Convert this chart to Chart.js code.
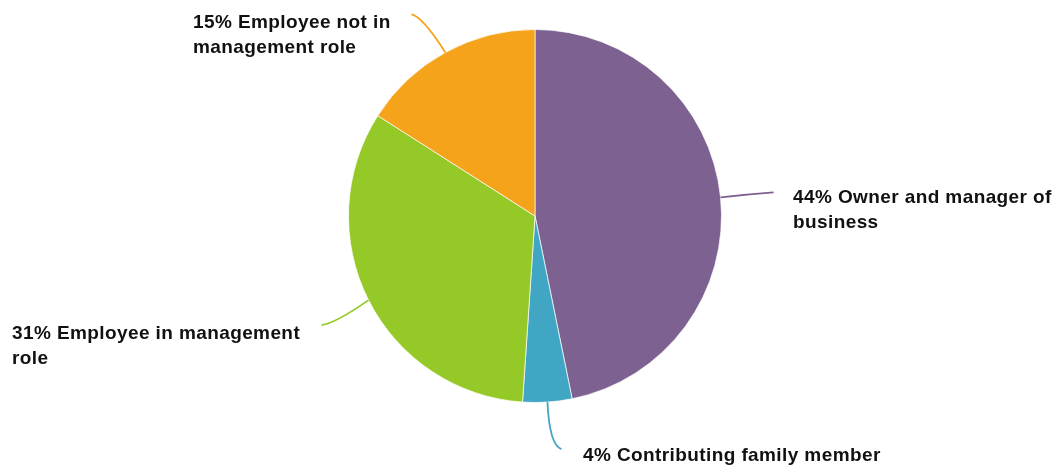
<!DOCTYPE html>
<html>
<head>
<meta charset="utf-8">
<script src="https://cdn.jsdelivr.net/npm/chart.js@4.4.1/dist/chart.umd.min.js"></script>
<style>
  html, body { margin: 0; padding: 0; background: #ffffff; }
  #wrap { width: 1063px; height: 472px; position: relative; }
</style>
</head>
<body>
<div id="wrap"><canvas id="chart"></canvas></div>
<script>
// Employment status shares (percent)
const categories = [
  'Owner and manager of business',
  'Contributing family member',
  'Employee in management role',
  'Employee not in management role'
];
const shares = [44, 4, 31, 15];
const sliceColors = ['#7d6190', '#41a6c4', '#95c927', '#f5a31b'];

// Label text, broken into lines as displayed
const labelLines = [
  ['44% Owner and manager of', 'business'],
  ['4% Contributing family member'],
  ['31% Employee in management', 'role'],
  ['15% Employee not in', 'management role']
];

// Leader-line geometry per slice: control point and end point offsets from the arc midpoint,
// plus where the label block starts (left x, first baseline).
const leaderLayout = [
  { c: [26, -3], e: [53, -5], text: [793, 203] },
  { c: [2, 43],  e: [14, 47], text: [583, 461] },
  { c: [-33, 23], e: [-47, 25], text: [12, 339] },
  { c: [-23, -36], e: [-34, -38], text: [193, 28] }
];

const leaderPlugin = {
  id: 'leaderLabels',
  afterDatasetsDraw(chart) {
    const ctx = chart.ctx;
    const meta = chart.getDatasetMeta(0);
    meta.data.forEach((arc, i) => {
      const p = arc.getProps(['x', 'y', 'startAngle', 'endAngle', 'outerRadius'], true);
      const mid = (p.startAngle + p.endAngle) / 2;
      const sx = p.x + Math.cos(mid) * p.outerRadius;
      const sy = p.y + Math.sin(mid) * p.outerRadius;
      const L = leaderLayout[i];
      ctx.save();
      ctx.strokeStyle = sliceColors[i];
      ctx.lineWidth = 1.8;
      ctx.beginPath();
      ctx.moveTo(sx, sy);
      ctx.quadraticCurveTo(sx + L.c[0], sy + L.c[1], sx + L.e[0], sy + L.e[1]);
      ctx.stroke();
      ctx.fillStyle = '#111111';
      ctx.font = 'bold 19px "Liberation Sans", Arial, sans-serif';
      ctx.letterSpacing = '0.4px';
      ctx.textAlign = 'left';
      ctx.textBaseline = 'alphabetic';
      labelLines[i].forEach((line, k) => {
        ctx.fillText(line, L.text[0], L.text[1] + k * 25);
      });
      ctx.restore();
    });
  }
};

new Chart(document.getElementById('chart'), {
  type: 'pie',
  data: {
    labels: categories,
    datasets: [{
      data: shares,
      backgroundColor: sliceColors,
      borderColor: 'rgba(255,255,255,0.7)',
      borderWidth: 1
    }]
  },
  options: {
    responsive: true,
    maintainAspectRatio: false,
    animation: false,
    layout: { padding: { left: 348, right: 341, top: 29, bottom: 69 } },
    plugins: {
      legend: { display: false },
      tooltip: { enabled: false }
    }
  },
  plugins: [leaderPlugin]
});
</script>
</body>
</html>
